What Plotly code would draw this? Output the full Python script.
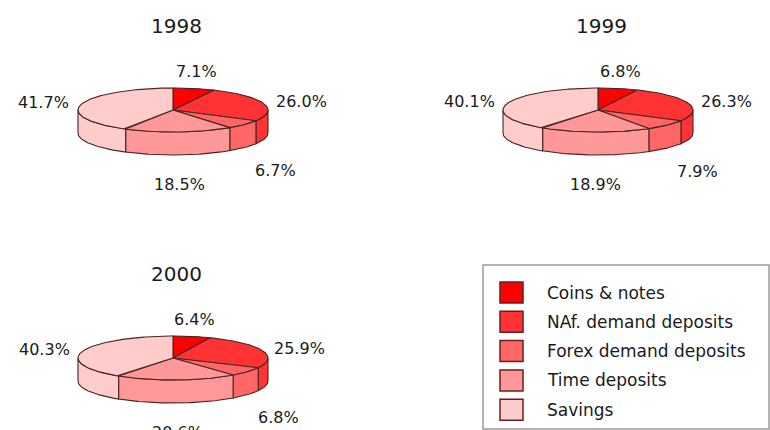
import numpy as np
import plotly.graph_objects as go

# Money-supply composition, share of total (%)
years = ["1998", "1999", "2000"]
categories = ["Coins & notes", "NAf. demand deposits", "Forex demand deposits",
              "Time deposits", "Savings"]
shares_1998 = [7.1, 26.0, 6.7, 18.5, 41.7]
shares_1999 = [6.8, 26.3, 7.9, 18.9, 40.1]
shares_2000 = [6.4, 25.9, 6.8, 20.6, 40.3]

# Styling
colors = ["#FF0000", "#FF3333", "#FF6666", "#FF9999", "#FFCCCC"]
EDGE = "#4a2424"
FONT = "DejaVu Sans"
TEXT = "#1a1a1a"

# Layout of the canvas (pixel-like units; y grows downward)
W, H = 770, 430
RX, RY, DEPTH = 95, 22, 23
centers = {"1998": (173, 110), "1999": (598, 110), "2000": (173, 358)}
series = {"1998": shares_1998, "1999": shares_1999, "2000": shares_2000}

fig = go.Figure()
annotations = []


def ellipse_pts(cx, cy, a0, a1, dy=0.0, n_per_deg=1.0):
    n = max(2, int(abs(a1 - a0) * n_per_deg) + 1)
    t = np.radians(np.linspace(a0, a1, n))
    return cx + RX * np.sin(t), cy - RY * np.cos(t) + dy


def poly(xs, ys, color):
    fig.add_trace(go.Scatter(
        x=list(xs), y=list(ys), mode="lines", fill="toself",
        fillcolor=color, line=dict(color=EDGE, width=1.1),
        hoverinfo="skip", showlegend=False))


for yr in years:
    cx, cy = centers[yr]
    vals = series[yr]
    total = sum(vals)
    bounds = np.concatenate([[0], np.cumsum(vals)]) / total * 360.0

    # side walls (front half only: 90..270 degrees from the top, clockwise)
    for i in range(len(vals)):
        s, e = max(bounds[i], 90.0), min(bounds[i + 1], 270.0)
        if e > s:
            tx, ty = ellipse_pts(cx, cy, s, e)
            bx, by = ellipse_pts(cx, cy, e, s, dy=DEPTH)
            poly(np.concatenate([tx, bx, tx[:1]]),
                 np.concatenate([ty, by, ty[:1]]), colors[i])

    # top faces
    for i in range(len(vals)):
        ax_, ay_ = ellipse_pts(cx, cy, bounds[i], bounds[i + 1])
        poly(np.concatenate([[cx], ax_, [cx]]),
             np.concatenate([[cy], ay_, [cy]]), colors[i])

    # percentage labels outside each slice
    for i, v in enumerate(vals):
        mid = np.radians((bounds[i] + bounds[i + 1]) / 2)
        sn, cs = np.sin(mid), np.cos(mid)
        gx = 11
        gy = 6 if cs >= 0 else 18
        lx = cx + (RX + gx) * sn
        ly = cy - (RY + gy) * cs + (DEPTH if cs < 0 else 0)
        xa = "left" if sn > 0.5 else ("right" if sn < -0.5 else "center")
        if abs(cs) < 0.35:
            ya = "middle"
        else:
            ya = "bottom" if cs > 0 else "top"
        annotations.append(dict(
            x=lx, y=ly, text=f"{v:.1f}%", showarrow=False,
            xanchor=xa, yanchor=ya,
            font=dict(family=FONT, size=16, color=TEXT)))

    # year title
    annotations.append(dict(
        x=cx + 3, y=cy - 84, text=yr, showarrow=False,
        xanchor="center", yanchor="middle",
        font=dict(family=FONT, size=20, color=TEXT)))

# legend box
shapes = [dict(type="rect", xref="x", yref="y", x0=483, x1=769, y0=265, y1=429,
               line=dict(color="#9a9a9a", width=1.5), fillcolor="white", layer="below")]
for i, cat in enumerate(categories):
    yc = 292.5 + i * 29.3
    shapes.append(dict(type="rect", xref="x", yref="y",
                       x0=500, x1=523, y0=yc - 10.5, y1=yc + 10.5,
                       fillcolor=colors[i], line=dict(color="#6e1c1c", width=1.5)))
    annotations.append(dict(
        x=545, y=yc, text=cat, showarrow=False, xanchor="left", yanchor="middle",
        font=dict(family=FONT, size=17, color=TEXT)))

fig.update_layout(
    width=W, height=H, margin=dict(l=0, r=0, t=0, b=0),
    paper_bgcolor="white", plot_bgcolor="white",
    xaxis=dict(range=[0, W], visible=False, fixedrange=True),
    yaxis=dict(range=[H, 0], visible=False, fixedrange=True),
    annotations=annotations, shapes=shapes, showlegend=False)

fig.write_html("out.html")
